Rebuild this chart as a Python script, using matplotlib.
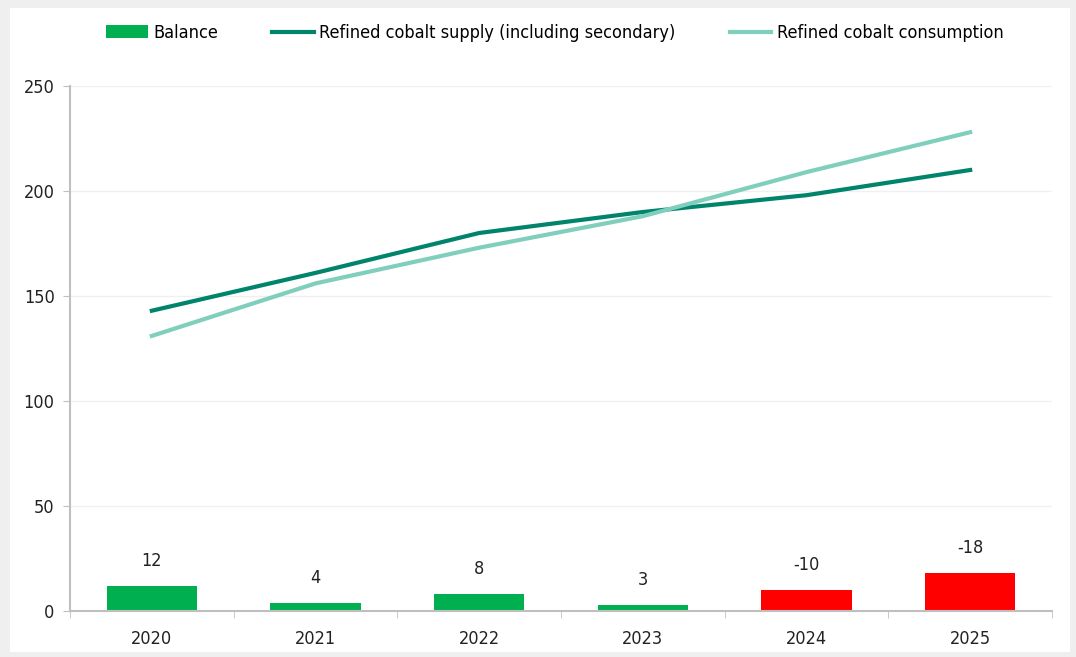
import matplotlib.pyplot as plt
from matplotlib.patches import Rectangle
import numpy as np

years = ['2020', '2021', '2022', '2023', '2024', '2025']
balance = [12, 4, 8, 3, -10, -18]
supply = [143, 161, 180, 190, 198, 210]
consumption = [131, 156, 173, 188, 209, 228]

plt.rcParams['font.family'] = ['Liberation Sans Narrow', 'DejaVu Sans']
plt.rcParams['font.stretch'] = 'condensed'

fig = plt.figure(figsize=(10.76, 6.57), dpi=100, facecolor='#efefef')
fig.patches.append(Rectangle((10 / 1076, 5 / 657), 1060 / 1076, 644 / 657,
                             transform=fig.transFigure, facecolor='white',
                             edgecolor='none', zorder=-5))
ax = fig.add_axes([70 / 1076, 46 / 657, 982 / 1076, 525 / 657])
ax.set_facecolor('none')

x = np.arange(len(years))
bar_colors = ['#00b050' if v >= 0 else '#ff0000' for v in balance]
bars = ax.bar(x, np.abs(balance), width=0.55, color=bar_colors, label='Balance', zorder=2)
l1, = ax.plot(x, supply, color='#00846c', lw=3, label='Refined cobalt supply (including secondary)', zorder=3)
l2, = ax.plot(x, consumption, color='#80cfbc', lw=3, label='Refined cobalt consumption', zorder=3)

for xi, v in zip(x, balance):
    ax.annotate(f'{v}', (xi, abs(v)), xytext=(0, 18), textcoords='offset points',
                ha='center', va='center', fontsize=13, color='#222222')

ax.set_xlim(-0.5, len(years) - 0.5)
ax.set_ylim(0, 250)
ax.set_yticks(range(0, 251, 50))
ax.set_xticks(x)
ax.set_xticklabels(years)
ax.set_xticks(np.arange(-0.5, len(years)), minor=True)
ax.xaxis.set_minor_formatter(plt.NullFormatter())
ax.tick_params(axis='x', which='major', length=0, pad=14, labelsize=13, colors='#222222')
ax.tick_params(axis='x', which='minor', length=5, color='#bfbfbf')
ax.tick_params(axis='y', length=5, color='#bfbfbf', labelsize=13, labelcolor='#222222', pad=6)
ax.grid(axis='y', color='#f0f0f0', lw=1, zorder=0)
for s in ['top', 'right']:
    ax.spines[s].set_visible(False)
for s in ['left', 'bottom']:
    ax.spines[s].set_color('#bfbfbf')
    ax.spines[s].set_linewidth(1.5)

ax.legend([bars, l1, l2], [bars.get_label(), l1.get_label(), l2.get_label()],
          loc='center', bbox_to_anchor=(555 / 1076, 1 - 33 / 657), bbox_transform=fig.transFigure,
          ncol=3, frameon=False, fontsize=13, handlelength=2.3, columnspacing=3.0,
          handletextpad=0.3)

fig.savefig('out.png', dpi=100, facecolor=fig.get_facecolor())
